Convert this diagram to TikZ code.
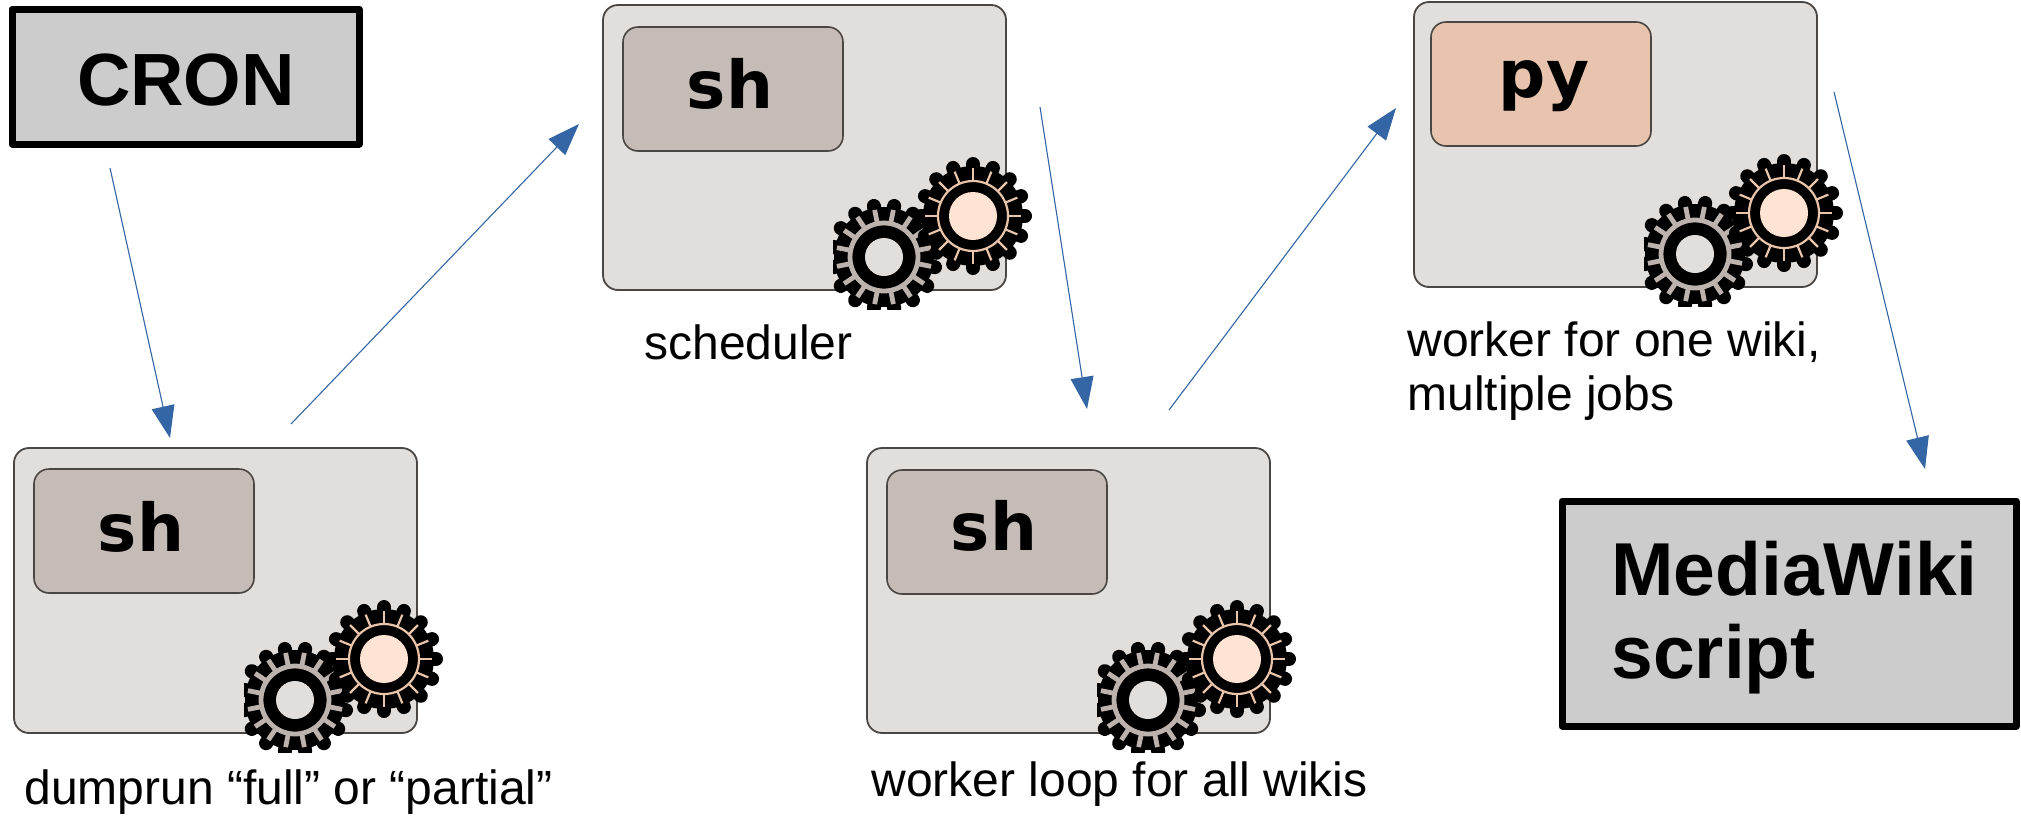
\documentclass[tikz,border=0pt]{standalone}
\usepackage{fontspec}
\setmainfont{Liberation Sans}
\newfontfamily\dejabold{DejaVu Sans}[BoldFont={DejaVu Sans Bold}]
\usetikzlibrary{arrows.meta}
\definecolor{winfill}{HTML}{E2DEDB}
\definecolor{winedge}{HTML}{4A4643}
\definecolor{shfill}{HTML}{C6BCB7}
\definecolor{pyfill}{HTML}{E8C4AE}
\definecolor{gearring}{HTML}{BDB3AE}
\definecolor{gearwarm}{HTML}{E8C4AB}
\definecolor{gearcore}{HTML}{FFE4D3}
\definecolor{flow}{HTML}{3465A4}
\definecolor{boxfill}{HTML}{CCCCCC}
\tikzset{
  winbox/.style={draw=winedge,fill=winfill,line width=.9pt,rounded corners=7.5pt},
  langbox/.style={draw=winedge,fill=#1,line width=.8pt,rounded corners=7.5pt},
  langtext/.style={font=\dejabold\bfseries\fontsize{33}{33}\selectfont,anchor=base,inner sep=0pt},
  bigbox/.style={draw=black,fill=boxfill,line width=3.5pt,line join=round},
  bigtext/.style={font=\bfseries\fontsize{37.5}{41.5}\selectfont,inner sep=0pt},
  crontext/.style={font=\bfseries\fontsize{37}{41.5}\selectfont,inner sep=0pt},
  caption/.style={font=\fontsize{24}{28}\selectfont,anchor=base west,inner sep=0pt},
  flowline/.style={draw=flow,line width=.55pt,-{Triangle[length=16pt,width=11.5pt,fill=flow]}}
}
\newcommand{\gearart}[7]{% x y teethcolor toothwidth ringradius corecolor coreradius
  \begin{scope}[shift={(#1,#2)}]
    \foreach \a in {0,22.5,...,337.5}
      \draw[black,line width=7pt,line cap=round] (0,0) -- (\a+#7:52);
    \fill[black] (0,0) circle[radius=50];
    \foreach \a in {0,22.5,...,337.5}
      \draw[#3,line width=#4] (\a+#7:#5) -- (\a+#7:48);
    \draw[#3,line width=#4] (0,0) circle[radius=#5];
    \fill[#6] (0,0) circle[radius=\gearcorer];
  \end{scope}}
\newcommand{\procwin}[8]{% x y name langfill langtext textpos boxx boxy
  \begin{scope}[shift={(#1,#2)}]
    \path[winbox] (0,0) rectangle (403,285);
    \path[langbox=#4] (#7,#8) rectangle ++(220,124);
    \node[langtext] (#3lang) at (#6) {#5};
    \begin{scope}
      \clip (230,150) rectangle (460,304);
      \def\gearcorer{19}
      \gearart{281}{252}{gearring}{2.4pt}{34}{winfill}{11.25}
      \def\gearcorer{24}
      \gearart{370}{211}{gearwarm}{1.1pt}{35}{gearcore}{0}
    \end{scope}
  \end{scope}}
\begin{document}
\begin{tikzpicture}[x=.5pt,y=-.5pt]
\useasboundingbox (0,0) rectangle (2021,815);
% coordinates of the free connector ends
\coordinate (a1) at (110,168);  \coordinate (b1) at (170,438);
\coordinate (a2) at (291,424);  \coordinate (b2) at (579,124);
\coordinate (a3) at (1040,107); \coordinate (b3) at (1087,409);
\coordinate (a4) at (1169,410); \coordinate (b4) at (1396,108);
\coordinate (a5) at (1834,92);  \coordinate (b5) at (1925,469);

\path[bigbox] (12,9) rectangle (359,144);
\node[crontext,anchor=base] (cron) at (186,105) {CRON};

\procwin{14}{448}{dumprun}{shfill}{sh}{127,103}{20}{21}
\procwin{603}{5}{scheduler}{shfill}{sh}{127,103}{20}{22}
\procwin{867}{448}{loop}{shfill}{sh}{127,102}{20}{22}
\procwin{1414}{2}{worker}{pyfill}{py}{130,95}{17}{20}

\path[bigbox] (1562,501) rectangle (2016,726);
\node[bigtext,anchor=base west] (mw1) at (1611,595) {MediaWiki};
\node[bigtext,anchor=base west] (mw2) at (1611,678) {script};

\node[caption] (c1) at (24,804) {dumprun “full” or “partial”};
\node[caption] (c2) at (644,359) {scheduler};
\node[caption] (c3) at (871,796) {worker loop for all wikis};
\node[caption] (c4) at (1407,356) {worker for one wiki,};
\node[caption] (c5) at (1407,410) {multiple jobs};

\draw[flowline] (a1) -- (b1);
\draw[flowline] (a2) -- (b2);
\draw[flowline] (a3) -- (b3);
\draw[flowline] (a4) -- (b4);
\draw[flowline] (a5) -- (b5);
\end{tikzpicture}
\end{document}
